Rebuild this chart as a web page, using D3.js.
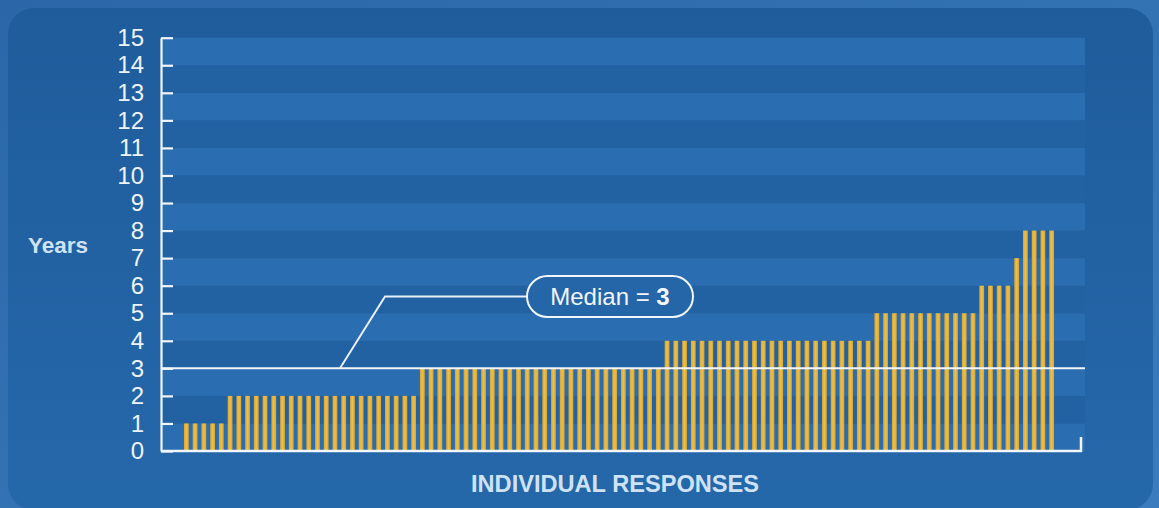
<!DOCTYPE html>
<html>
<head>
<meta charset="utf-8">
<script src="https://cdn.jsdelivr.net/npm/d3@7"></script>
<style>
  html, body { margin: 0; padding: 0; background: #2f6fb0; }
  svg { display: block; font-family: "Liberation Sans", Arial, sans-serif; }
</style>
</head>
<body>
<div class="chart"></div>
<script>
// one bar per respondent, sorted
var responses = [
  1, 1, 1, 1, 1,
  2, 2, 2, 2, 2, 2, 2, 2, 2, 2, 2, 2, 2, 2, 2, 2, 2, 2, 2, 2, 2, 2,
  3, 3, 3, 3, 3, 3, 3, 3, 3, 3, 3, 3, 3, 3, 3, 3, 3, 3, 3, 3, 3, 3, 3, 3, 3, 3, 3, 3,
  4, 4, 4, 4, 4, 4, 4, 4, 4, 4, 4, 4, 4, 4, 4, 4, 4, 4, 4, 4, 4, 4, 4, 4,
  5, 5, 5, 5, 5, 5, 5, 5, 5, 5, 5, 5,
  6, 6, 6, 6,
  7,
  8, 8, 8, 8
];
var respondents = responses.map(function(d, i) { return i; });
var yTicks = [0, 1, 2, 3, 4, 5, 6, 7, 8, 9, 10, 11, 12, 13, 14, 15];
var median = 3;

var svgWidth = 1159;
var svgHeight = 508;

var svg = d3.select(".chart")
  .append("svg")
  .attr("width", svgWidth)
  .attr("height", svgHeight);

var defs = svg.append("defs");
var bgGrad = defs.append("linearGradient").attr("id", "bg").attr("x1", 0).attr("y1", 0).attr("x2", 0).attr("y2", 1);
bgGrad.append("stop").attr("offset", "0%").attr("stop-color", "#1f5c9c");
bgGrad.append("stop").attr("offset", "100%").attr("stop-color", "#2568aa");

var outerGrad = defs.append("linearGradient").attr("id", "outer").attr("x1", 0).attr("y1", 0).attr("x2", 1).attr("y2", 1);
outerGrad.append("stop").attr("offset", "0%").attr("stop-color", "#2b67a8");
outerGrad.append("stop").attr("offset", "100%").attr("stop-color", "#3a7cbd");

var barGrad = defs.append("linearGradient").attr("id", "bar").attr("x1", 0).attr("y1", 0).attr("x2", 1).attr("y2", 0);
barGrad.append("stop").attr("offset", "0%").attr("stop-color", "#d6a432");
barGrad.append("stop").attr("offset", "50%").attr("stop-color", "#eebf48");
barGrad.append("stop").attr("offset", "100%").attr("stop-color", "#d6a432");

svg.append("rect")
  .attr("width", svgWidth)
  .attr("height", svgHeight)
  .attr("fill", "url(#outer)");

svg.append("rect")
  .attr("x", 8)
  .attr("y", 8)
  .attr("width", svgWidth - 14)
  .attr("height", svgHeight - 6)
  .attr("rx", 26)
  .attr("fill", "url(#bg)");

var plotLeft = 161;
var plotRight = 1085;

var yScale = d3.scaleLinear().domain([0, 15]).range([451, 37.7]);

var xScale = d3.scaleBand()
  .domain(respondents)
  .range([182, 1056])
  .paddingInner(0.45)
  .paddingOuter(0.225);

// alternating stripes between the ticks
svg.append("g")
  .selectAll("rect")
  .data(yTicks.slice(0, -1))
  .enter().append("rect")
    .attr("x", plotLeft)
    .attr("y", function(d) { return yScale(d + 1); })
    .attr("width", plotRight - plotLeft)
    .attr("height", function(d) { return yScale(d) - yScale(d + 1); })
    .attr("fill", function(d) { return d % 2 === 0 ? "#2a6db0" : "#2261a2"; });

svg.append("g")
  .selectAll("rect")
  .data(responses)
  .enter().append("rect")
    .attr("x", function(d, i) { return xScale(i); })
    .attr("y", function(d) { return yScale(d); })
    .attr("width", xScale.bandwidth())
    .attr("height", function(d) { return yScale(0) - yScale(d); })
    .attr("fill", "url(#bar)");

// y axis, ticks pointing into the plot
var leftAxis = d3.axisLeft(yScale)
  .tickValues(yTicks)
  .tickSize(-12)
  .tickSizeOuter(0)
  .tickPadding(17);

var yAxis = svg.append("g")
  .attr("transform", "translate(" + plotLeft + ",0)")
  .call(leftAxis);
yAxis.selectAll("path, line").attr("stroke", "#f2f6fa").attr("stroke-width", 2.2);
yAxis.selectAll("text")
  .attr("fill", "#eef3f8")
  .style("font-size", "24px")
  .style("font-family", "Liberation Sans, Arial, sans-serif");

// baseline with end tick
svg.append("path")
  .attr("d", "M" + plotLeft + "," + yScale(0) + "H1081V" + (yScale(0) - 14))
  .attr("fill", "none")
  .attr("stroke", "#f2f6fa")
  .attr("stroke-width", 2.5);

// median line
svg.append("line")
  .attr("x1", plotLeft)
  .attr("x2", plotRight)
  .attr("y1", yScale(median))
  .attr("y2", yScale(median))
  .attr("stroke", "#f2f6fa")
  .attr("stroke-width", 2);

// callout
svg.append("path")
  .attr("d", "M340," + yScale(median) + "L385,296.5H527")
  .attr("fill", "none")
  .attr("stroke", "#e8f0f8")
  .attr("stroke-width", 2);

svg.append("rect")
  .attr("x", 527)
  .attr("y", 276)
  .attr("width", 166)
  .attr("height", 41)
  .attr("rx", 20.5)
  .attr("fill", "#2466a8")
  .attr("stroke", "#f2f6fa")
  .attr("stroke-width", 2);

var medText = svg.append("text")
  .attr("x", 610)
  .attr("y", 305)
  .attr("text-anchor", "middle")
  .attr("fill", "#f2f6fa")
  .style("font-size", "24px");
medText.append("tspan").text("Median = ");
medText.append("tspan").attr("font-weight", "bold").text(median);

svg.append("text")
  .attr("x", 28)
  .attr("y", 252.5)
  .attr("fill", "#cfe2f4")
  .attr("font-weight", "bold")
  .style("font-size", "22.5px")
  .text("Years");

svg.append("text")
  .attr("x", 615)
  .attr("y", 491.5)
  .attr("text-anchor", "middle")
  .attr("fill", "#cfe2f4")
  .attr("font-weight", "bold")
  .style("font-size", "23.6px")
  .text("INDIVIDUAL RESPONSES");
</script>
</body>
</html>
